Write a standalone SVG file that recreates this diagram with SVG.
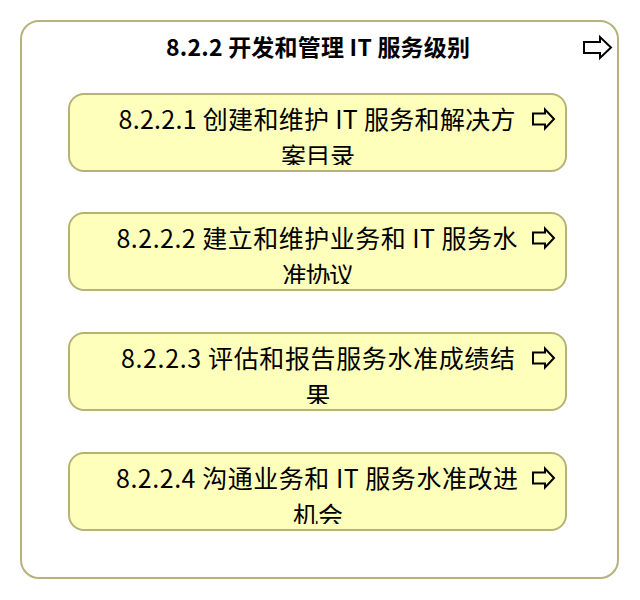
<svg xmlns="http://www.w3.org/2000/svg" width="640" height="600" viewBox="0 0 640 600">
<style>
.outer{fill:#ffffff;stroke:#b5b27a;stroke-width:2}
.box{fill:#ffffbc;stroke:#b5b27a;stroke-width:2}
.icon{fill:none;stroke:#000000;stroke-width:2;stroke-linejoin:miter}
.title{font-family:"Noto Sans CJK SC","Noto Sans",sans-serif;font-size:23px;font-weight:bold;fill:#000000;text-anchor:middle}
.lbl{font-family:"Noto Sans CJK SC","Noto Sans",sans-serif;font-size:25px;fill:#000000;text-anchor:middle}
</style>
<defs>
<clipPath id="c1"><rect x="70" y="95" width="496" height="70"/></clipPath>
<clipPath id="c2"><rect x="70" y="214" width="496" height="70"/></clipPath>
<clipPath id="c3"><rect x="70" y="334" width="496" height="70"/></clipPath>
<clipPath id="c4"><rect x="70" y="454" width="496" height="70"/></clipPath>
</defs>
<g id="group-8-2-2">
<rect class="outer" x="21" y="21" width="597" height="557" rx="18" ry="18"/>
<text class="title" x="318" y="56" textLength="304">8.2.2 开发和管理 IT 服务级别</text>
<path class="icon" d="M584,42 H600 V37 L611,47.5 L600,58 V53 H584 Z"/>
</g>
<g id="node-8-2-2-1">
<rect class="box" x="69" y="94" width="497" height="77" rx="15" ry="15"/>
<g clip-path="url(#c1)">
<text class="lbl" x="317" y="129" textLength="397">8.2.2.1 创建和维护 IT 服务和解决方</text>
<text class="lbl" x="318" y="166" textLength="74">案目录</text>
</g>
<path class="icon" d="M533,113.5 H545 V109.5 L554,119 L545,128.5 V124.5 H533 Z"/>
</g>
<g id="node-8-2-2-2">
<rect class="box" x="69" y="213" width="497" height="77" rx="15" ry="15"/>
<g clip-path="url(#c2)">
<text class="lbl" x="317" y="248" textLength="401">8.2.2.2 建立和维护业务和 IT 服务水</text>
<text class="lbl" x="318" y="285" textLength="72">准协议</text>
</g>
<path class="icon" d="M533,232.5 H545 V228.5 L554,238 L545,247.5 V243.5 H533 Z"/>
</g>
<g id="node-8-2-2-3">
<rect class="box" x="69" y="333" width="497" height="77" rx="15" ry="15"/>
<g clip-path="url(#c3)">
<text class="lbl" x="318" y="368" textLength="394">8.2.2.3 评估和报告服务水准成绩结</text>
<text class="lbl" x="318" y="405">果</text>
</g>
<path class="icon" d="M533,352.5 H545 V348.5 L554,358 L545,367.5 V363.5 H533 Z"/>
</g>
<g id="node-8-2-2-4">
<rect class="box" x="69" y="453" width="497" height="77" rx="15" ry="15"/>
<g clip-path="url(#c4)">
<text class="lbl" x="317" y="488" textLength="402">8.2.2.4 沟通业务和 IT 服务水准改进</text>
<text class="lbl" x="318" y="525" textLength="50">机会</text>
</g>
<path class="icon" d="M533,472.5 H545 V468.5 L554,478 L545,487.5 V483.5 H533 Z"/>
</g>
<g id="connectors"></g>
</svg>
